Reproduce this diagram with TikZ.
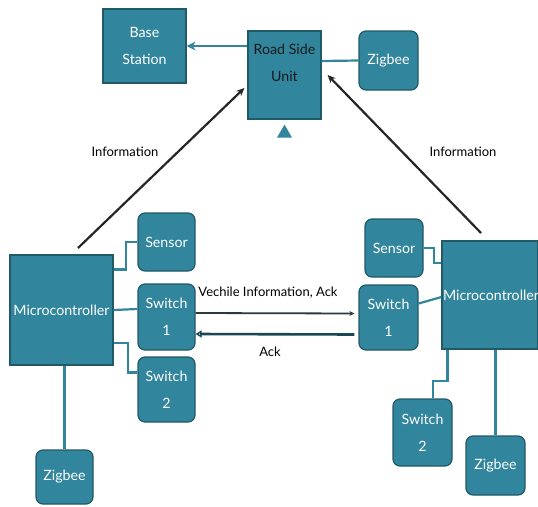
\documentclass[tikz,border=0pt]{standalone}
\usepackage{fontspec}
\setmainfont{Lato}
\usetikzlibrary{arrows.meta}
\definecolor{boxfill}{RGB}{49,133,156}
\definecolor{boxline}{RGB}{33,89,103}
\definecolor{darkline}{RGB}{45,55,60}

\begin{document}
\begin{tikzpicture}[x=1pt,y=-1pt,
  blk/.style={draw=boxline,fill=boxfill,line width=1.2pt,text=white,align=center,
    font=\fontsize{14.2}{27}\selectfont,inner sep=0pt},
  rblk/.style={blk,rounded corners=7pt},
  link/.style={draw=boxfill,line width=2.2pt},
  info/.style={-{Stealth[length=8pt,width=7pt]},line width=2.2pt,draw=black!85},
  lbl/.style={font=\fontsize{13}{14}\selectfont,text=black}]
\useasboundingbox (0,0) rectangle (538,506);

% road side unit and its neighbours
\node [blk,minimum width=83,minimum height=74] (bs) at (144.5,46) {Base\\Station};
\node [blk,minimum width=73,minimum height=88] (rsu) at (284.5,75) {};
\node [align=center,font=\fontsize{14.2}{27}\selectfont,text=black!90] (rsutxt) at (284.5,63) {Road Side\\Unit};
\fill [boxfill] ([xshift=-7.5pt,yshift=-18pt]rsu.south)--([xshift=7.5pt,yshift=-18pt]rsu.south)--([yshift=-5pt]rsu.south)--cycle;
\node [rblk,minimum width=59,minimum height=59] (ztop) at (388.5,60.5) {Zigbee};

% left vehicle
\node [blk,minimum width=103,minimum height=110] (mcl) at (61.5,310) {Microcontroller};
\node [rblk,minimum width=57,minimum height=58] (senl) at (166.5,242) {Sensor};
\node [rblk,minimum width=57,minimum height=66] (swal) at (166.5,317) {Switch\\1};
\node [rblk,minimum width=57,minimum height=65] (swbl) at (166.5,389.5) {Switch\\2};
\node [rblk,minimum width=57,minimum height=54] (zbl) at (64.5,477) {Zigbee};

% right vehicle
\node [blk,minimum width=96,minimum height=108,text width=94,xshift=-1.5pt,align=right] (mcr) at (491.5,295) {Microcontroller};
\node [rblk,minimum width=58,minimum height=58] (senr) at (394,248) {Sensor};
\node [rblk,minimum width=59,minimum height=65] (swar) at (388.5,317.5) {Switch\\1};
\node [rblk,minimum width=59,minimum height=67] (swbr) at (422.5,432.5) {Switch\\2};
\node [rblk,minimum width=59,minimum height=59] (zbr) at (495.5,465.5) {Zigbee};

\draw [link,-{Stealth[length=9pt,width=9pt]}] (rsu.west |- bs.east) -- (bs.east);
\draw [link] ([yshift=14pt]rsu.east) -- (ztop.west);

\draw [link] ([yshift=-15pt]mcl.north east) -- ++(12,0) |- (senl.west);
\draw [link] (mcl.east) -- ([yshift=8pt]swal.west);
\draw [link] ([yshift=-33pt]mcl.east) -- ++(14,0) |- ([yshift=17pt]swbl.west);
\draw [link] (zbl.north) -- (zbl.north |- mcl.south);

\draw [link] (senr.east) -- ++(10,0) |- ([yshift=32pt]mcr.west);
\draw [link] ([yshift=14pt]swar.east) -- ([yshift=-2pt]mcr.west);
\draw [link] ([xshift=6pt]mcr.south west) -- ++(0,31) -| ([xshift=10.5pt]swbr.north);
\draw [link] (zbr.north) -- (zbr.north |- mcr.south);

\coordinate (startl) at (78,248);
\coordinate (startr) at (481,233);
\draw [info] (startl) -- ([xshift=-3pt,yshift=-13pt]rsu.west);
\draw [info] (startr) -- ([xshift=6pt]rsu.east);
\node [lbl] (infl) at (125,152) {Information};
\node [lbl] (infr) at (463,152) {Information};

\draw [-{Stealth[length=5pt,width=5pt]},line width=1.8pt,darkline] ([yshift=4pt]swal.east) -- ([xshift=-4pt,yshift=4pt]swar.west);
\draw [-{Triangle[open,length=6pt,width=7pt]},line width=2.6pt,draw=boxline!80!black] ([xshift=-4pt,yshift=-17pt]swar.west) -- ([yshift=-17pt]swal.east);
\node [lbl] (vinfo) at (268,293) {Vechile Information, Ack};
\node [lbl] (ack) at (270,352) {Ack};
\end{tikzpicture}
\end{document}
